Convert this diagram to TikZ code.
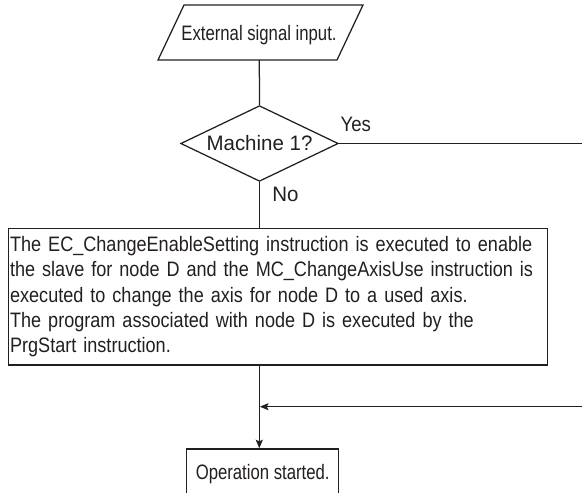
\documentclass[tikz,border=0pt]{standalone}
\usepackage{fontspec}
\setmainfont{Liberation Sans}
\newfontfamily\fA{Liberation Sans}[FakeStretch=0.80]
\newfontfamily\fB{Liberation Sans}[FakeStretch=0.89]
\newfontfamily\fD{Liberation Sans}[FakeStretch=0.865]
\newfontfamily\fC{Liberation Sans}[FakeStretch=0.98]
\usetikzlibrary{shapes.geometric,arrows.meta}
\definecolor{ink}{RGB}{35,31,32}
\hyphenpenalty=10000
\exhyphenpenalty=10000
\begin{document}
\begin{tikzpicture}[x=1pt,y=-1pt,line width=1.25pt,draw=ink,text=ink,
  every node/.style={font=\fontsize{20.9}{25.2}\selectfont},
  lbl/.style={inner sep=0pt},
  flowbox/.style={draw,inner sep=0pt},
  tip/.style={-{Stealth[length=8.5pt,width=7pt,inset=1.5pt]}}]
\useasboundingbox (0,0) rectangle (582,493);
\clip (0,0) rectangle (582,493);
% input parallelogram
\coordinate (p1) at (184,5);
\coordinate (p2) at (363,5);
\coordinate (p3) at (337,60);
\coordinate (p4) at (158,60);
\draw[line join=miter] (p1) -- (p2) -- (p3) -- (p4) -- cycle;
\node[lbl,anchor=base] (inp) at (259,40) {\fA External signal input.};
\coordinate (inb) at (259.3,60);
% decision
\node[diamond,draw,aspect=2.08,minimum width=157.6pt,minimum height=75.7pt,inner sep=0pt] (dia) at (259.5,143.5) {\fC Machine 1?};
\node[lbl,anchor=base west] (yes) at (340,131) {\fB Yes};
\node[lbl,anchor=base west] (no) at (271.7,201) {\fC No};
\coordinate (rt) at (582,143.5);
% process box
\node[flowbox,minimum width=539.4pt,minimum height=136.7pt,inner xsep=1.8pt,text width=535.8pt,align=left] (box) at (278,296.65)
{\fD The EC\_ChangeEnableSetting instruction is executed to enable\\
the slave for node D and the MC\_ChangeAxisUse instruction is\\
executed to change the axis for node D to a used axis.\\
The program associated with node D is executed by the\\
PrgStart instruction.};
% terminal box (cut at bottom)
\node[flowbox,anchor=north,minimum width=152pt,minimum height=50.6pt] (op) at (262.7,448.3) {\fA Operation started.};
\coordinate (rb) at (582,406.7);
\coordinate (j) at (259.3,406.7);
% connectors
\draw (inb) -- (dia.north);
\draw (dia.east) -- (rt);
\draw (dia.south) -- (dia.south |- box.north);
\draw[tip] (box.south -| inb) -- (op.north -| inb);
\draw[tip] (rb) -- ([xshift=0.6pt]j);
\end{tikzpicture}
\end{document}
